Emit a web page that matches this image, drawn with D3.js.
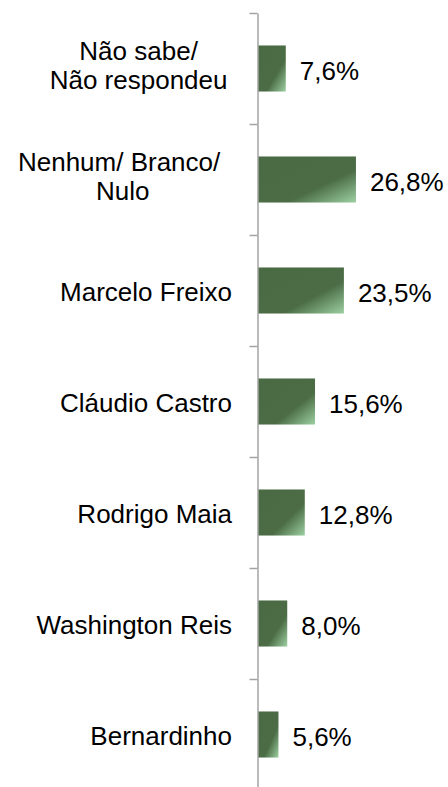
<!DOCTYPE html>
<html>
<head>
<meta charset="utf-8">
<script src="https://cdn.jsdelivr.net/npm/d3@7"></script>
<style>
  html, body { margin: 0; padding: 0; background: #fff; }
  svg { display: block; }
  text { font-family: "Liberation Sans", Arial, sans-serif; fill: #000; }
</style>
</head>
<body>
<svg id="chart" width="448" height="787"></svg>
<script>
const categories = [
  ["Não sabe/", "Não respondeu"],
  ["Nenhum/ Branco/ ", "Nulo"],
  ["Marcelo Freixo"],
  ["Cláudio Castro"],
  ["Rodrigo Maia"],
  ["Washington Reis"],
  ["Bernardinho"]
];
const values = [7.6, 26.8, 23.5, 15.6, 12.8, 8.0, 5.6];
const valueLabels = ["7,6%", "26,8%", "23,5%", "15,6%", "12,8%", "8,0%", "5,6%"];

const W = 448, H = 787;
const svg = d3.select("#chart");
const axisX = 257.5;
const fontSize = 26;

const y = d3.scaleBand()
  .domain(d3.range(categories.length))
  .range([13, 790])
  .paddingInner(0.585)
  .paddingOuter(0.2925);

const x = d3.scaleLinear().domain([0, 10]).range([258, 258 + 36.55]);

const defs = svg.append("defs");
const grad = defs.append("linearGradient")
  .attr("id", "barGrad")
  .attr("x1", 0).attr("y1", 0).attr("x2", 1).attr("y2", 1);
grad.append("stop").attr("offset", 0).attr("stop-color", "#4a6a44");
grad.append("stop").attr("offset", 0.64).attr("stop-color", "#4b6c45");
grad.append("stop").attr("offset", 1).attr("stop-color", "#9dd0a2");

// bars
svg.append("g").selectAll("rect")
  .data(values)
  .join("rect")
  .attr("x", x(0))
  .attr("y", (d, i) => y(i))
  .attr("width", d => x(d) - x(0))
  .attr("height", y.bandwidth())
  .attr("fill", "url(#barGrad)");

// axis with ticks between categories
const yTicks = d3.scaleLinear().domain([0, categories.length]).range([13, 790]);
const axis = d3.axisLeft(yTicks)
  .tickValues(d3.range(categories.length + 1))
  .tickSize(8)
  .tickSizeOuter(0)
  .tickFormat("");
const ag = svg.append("g")
  .attr("transform", `translate(${axisX},0)`)
  .call(axis);
ag.selectAll("path, line").attr("stroke", "#a3a3a3").attr("stroke-width", 1.5);

// category labels
const step = yTicks(1) - yTicks(0);
const labelG = svg.append("g").attr("font-size", fontSize);
categories.forEach((lines, i) => {
  const cy = yTicks(i) + step / 2;
  if (lines.length === 1) {
    labelG.append("text")
      .attr("x", 232)
      .attr("y", cy + 10.5)
      .attr("text-anchor", "end")
      .text(lines[0]);
  } else {
    const t = labelG.append("text").attr("text-anchor", "middle").style("white-space", "pre");
    const lineGap = 29;
    const tspans = lines.map((ln, k) => t.append("tspan")
      .attr("y", cy + 6 + (k - (lines.length - 1) / 2) * lineGap)
      .text(ln));
    const widths = tspans.map(ts => ts.node().getComputedTextLength());
    const bw = d3.max(widths);
    const cx = 227.5 - bw / 2;
    tspans.forEach(ts => ts.attr("x", cx));
  }
});

// value labels
svg.append("g").attr("font-size", fontSize).selectAll("text")
  .data(values)
  .join("text")
  .attr("x", d => x(d) + 14)
  .attr("y", (d, i) => y(i) + y.bandwidth() / 2 + 11)
  .text((d, i) => valueLabels[i]);
</script>
</body>
</html>
